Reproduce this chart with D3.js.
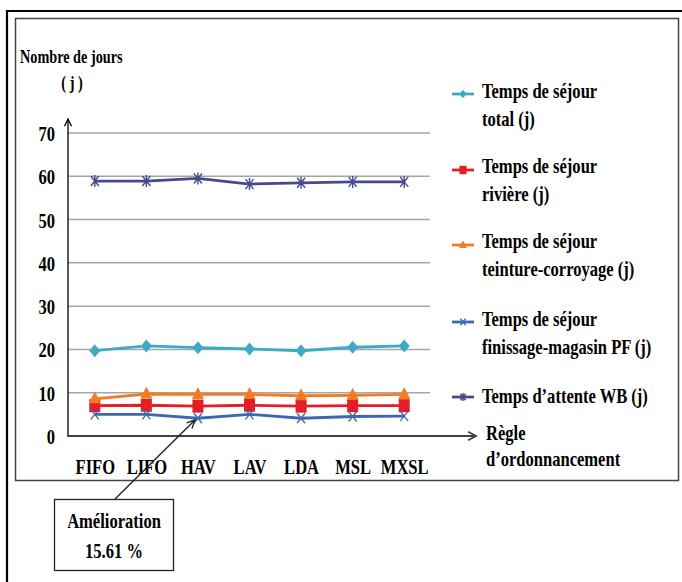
<!DOCTYPE html>
<html>
<head>
<meta charset="utf-8">
<script src="https://cdn.jsdelivr.net/npm/d3@7/dist/d3.min.js"></script>
<style>
  html, body { margin: 0; padding: 0; background: #fff; }
  svg { display: block; }
  text { font-family: "Liberation Serif", "Times New Roman", serif; font-weight: bold; fill: #000; }
</style>
</head>
<body>
<svg id="chart" width="682" height="582"></svg>
<script>
// Ordering rules (x axis)
const rules = ["FIFO", "LIFO", "HAV", "LAV", "LDA", "MSL", "MXSL"];
// Y axis ticks (days)
const yTicks = [0, 10, 20, 30, 40, 50, 60, 70];

// Series values (days) per rule
const sejourTotal      = [19.7, 20.8, 20.4, 20.1, 19.7, 20.5, 20.8];
const sejourRiviere    = [7.0, 7.1, 6.9, 7.1, 6.9, 7.0, 7.0];
const sejourTeinture   = [8.6, 9.7, 9.6, 9.6, 9.3, 9.4, 9.6];
const sejourFinissage  = [5.0, 5.0, 4.1, 5.0, 4.1, 4.5, 4.6];
const attenteWB        = [58.9, 58.9, 59.5, 58.2, 58.5, 58.7, 58.7];

const seriesNames = [
  ["Temps de séjour", "total (j)"],
  ["Temps de séjour", "rivière (j)"],
  ["Temps de séjour", "teinture-corroyage (j)"],
  ["Temps de séjour", "finissage-magasin PF (j)"],
  ["Temps d’attente WB (j)"]
];
const annotation = ["Amélioration", "15.61 %"];

const series = [
  { name: seriesNames[0], values: sejourTotal,     color: "#3FAAC4", marker: "diamond" },
  { name: seriesNames[1], values: sejourRiviere,   color: "#E21F26", marker: "square" },
  { name: seriesNames[2], values: sejourTeinture,  color: "#F47B20", marker: "triangle" },
  { name: seriesNames[3], values: sejourFinissage, color: "#3D68B0", marker: "cross" },
  { name: seriesNames[4], values: attenteWB,       color: "#454A8C", marker: "star" }
];

const SX = 0.77; // horizontal condensing of the serif text
const FS = 21.5; // main text size
const svg = d3.select("#chart");

// Frames
svg.append("path").attr("d", "M7,582 V11 H690").attr("fill", "none")
  .attr("stroke", "#000").attr("stroke-width", 2.2);
svg.append("rect").attr("x", 15.5).attr("y", 18.5).attr("width", 663).attr("height", 462)
  .attr("fill", "none").attr("stroke", "#444").attr("stroke-width", 1.5);

const x = d3.scalePoint().domain(rules).range([69, 430]).padding(0.5);
const y = d3.scaleLinear().domain([0, 70]).range([436, 133]);

function label(g, tx, ty, str, size, anchor) {
  return g.append("text")
    .attr("transform", `translate(${tx},${ty}) scale(${SX},1)`)
    .attr("text-anchor", anchor || "start")
    .attr("dy", "0.35em")
    .style("font-size", size + "px")
    .text(str);
}

// Gridlines
svg.append("g").selectAll("line").data(yTicks.filter(d => d > 0)).join("line")
  .attr("x1", 68).attr("x2", 430)
  .attr("y1", d => y(d)).attr("y2", d => y(d))
  .attr("stroke", "#A6A6A6").attr("stroke-width", 1.5);

// Y axis labels
const yAxis = svg.append("g").attr("transform", "translate(55,0)")
  .call(d3.axisLeft(y).tickValues(yTicks).tickSize(0).tickPadding(0));
yAxis.select(".domain").remove();
yAxis.selectAll("text")
  .attr("x", 0).attr("dy", "0.35em")
  .attr("transform", `scale(${SX},1)`)
  .style("font-size", FS + "px").attr("font-family", null)
  .attr("fill", "#000");

// X axis labels
const xAxis = svg.append("g").attr("transform", "translate(0,466)")
  .call(d3.axisBottom(x).tickSize(0).tickPadding(0));
xAxis.select(".domain").remove();
xAxis.selectAll("text")
  .attr("y", 0).attr("dy", "0.35em")
  .attr("transform", `scale(${SX},1)`)
  .style("font-size", FS + "px").attr("font-family", null)
  .attr("fill", "#000");

// Axis lines with open arrowheads
function arrowHead(x0, y0, angle, len, spread) {
  const a1 = angle + Math.PI - spread, a2 = angle + Math.PI + spread;
  return `M${x0 + len * Math.cos(a1)},${y0 + len * Math.sin(a1)} L${x0},${y0} L${x0 + len * Math.cos(a2)},${y0 + len * Math.sin(a2)}`;
}
svg.append("line").attr("x1", 68).attr("y1", 436.5).attr("x2", 68).attr("y2", 119)
  .attr("stroke", "#000").attr("stroke-width", 1.3);
svg.append("path").attr("d", arrowHead(68, 119, -Math.PI / 2, 8, 0.45))
  .attr("fill", "none").attr("stroke", "#000").attr("stroke-width", 1.3);
svg.append("line").attr("x1", 67).attr("y1", 436).attr("x2", 476).attr("y2", 436)
  .attr("stroke", "#404040").attr("stroke-width", 2);
svg.append("path").attr("d", arrowHead(476, 436, 0, 9, 0.5))
  .attr("fill", "none").attr("stroke", "#404040").attr("stroke-width", 1.8);

// Axis titles
label(svg, 20, 57, "Nombre de jours", 18.5);
label(svg, 72, 83, "( j )", 18.5, "middle");
label(svg, 486, 432, "Règle", FS);
label(svg, 486, 458, "d’ordonnancement", FS);

// Marker shapes
function marker(g, type, cx, cy, color, s) {
  const k = s || 1;
  if (type === "diamond") {
    g.append("path").attr("d", `M${cx},${cy - 6.5 * k} L${cx + 5.5 * k},${cy} L${cx},${cy + 6.5 * k} L${cx - 5.5 * k},${cy} Z`)
      .attr("fill", color);
  } else if (type === "square") {
    g.append("rect").attr("x", cx - 5.5 * k).attr("y", cy - 6.5 * k).attr("width", 11 * k).attr("height", 13 * k)
      .attr("fill", color);
  } else if (type === "triangle") {
    g.append("path").attr("d", `M${cx},${cy - 7.5 * k} L${cx + 6 * k},${cy + 4.5 * k} L${cx - 6 * k},${cy + 4.5 * k} Z`)
      .attr("fill", color);
  } else if (type === "cross") {
    g.append("path").attr("d", `M${cx - 4 * k},${cy - 5 * k} L${cx + 4 * k},${cy + 5 * k} M${cx + 4 * k},${cy - 5 * k} L${cx - 4 * k},${cy + 5 * k}`)
      .attr("stroke", color).attr("stroke-width", 1.3).attr("fill", "none");
  } else if (type === "star") {
    g.append("path").attr("d", `M${cx - 4 * k},${cy - 5 * k} L${cx + 4 * k},${cy + 5 * k} M${cx + 4 * k},${cy - 5 * k} L${cx - 4 * k},${cy + 5 * k} M${cx},${cy - 6 * k} L${cx},${cy + 6 * k}`)
      .attr("stroke", color).attr("stroke-width", 1.4).attr("fill", "none");
  }
}

// Series lines and markers
const line = d3.line().x((d, i) => x(rules[i])).y(d => y(d));
const plot = svg.append("g");
series.forEach(s => {
  const g = plot.append("g");
  g.append("path").datum(s.values).attr("d", line)
    .attr("fill", "none").attr("stroke", s.color).attr("stroke-width", 2.8);
  s.values.forEach((v, i) => marker(g, s.marker, x(rules[i]), y(v), s.color, 1));
});

// Legend
const legendRows = [
  { mark: 94, lines: [90, 118] },
  { mark: 170, lines: [165, 193] },
  { mark: 245, lines: [240, 268] },
  { mark: 322, lines: [318, 346] },
  { mark: 397, lines: [395] }
];
const legend = svg.append("g");
series.forEach((s, i) => {
  const row = legendRows[i];
  legend.append("line").attr("x1", 452).attr("x2", 474)
    .attr("y1", row.mark).attr("y2", row.mark)
    .attr("stroke", s.color).attr("stroke-width", 2.8);
  marker(legend, s.marker, 463, row.mark, s.color, 0.65);
  s.name.forEach((t, j) => label(legend, 482, row.lines[j], t, FS));
});

// Improvement callout
svg.append("line").attr("x1", 115).attr("y1", 499).attr("x2", 195).attr("y2", 420)
  .attr("stroke", "#222").attr("stroke-width", 1.4);
svg.append("path").attr("d", arrowHead(195, 420, Math.atan2(420 - 499, 195 - 115), 9, 0.45))
  .attr("fill", "none").attr("stroke", "#222").attr("stroke-width", 1.4);
svg.append("rect").attr("x", 54.5).attr("y", 499.5).attr("width", 119).attr("height", 71)
  .attr("fill", "#fff").attr("stroke", "#222").attr("stroke-width", 1.3);
label(svg, 114, 520, annotation[0], FS, "middle");
label(svg, 114, 550, annotation[1], FS, "middle");
</script>
</body>
</html>
